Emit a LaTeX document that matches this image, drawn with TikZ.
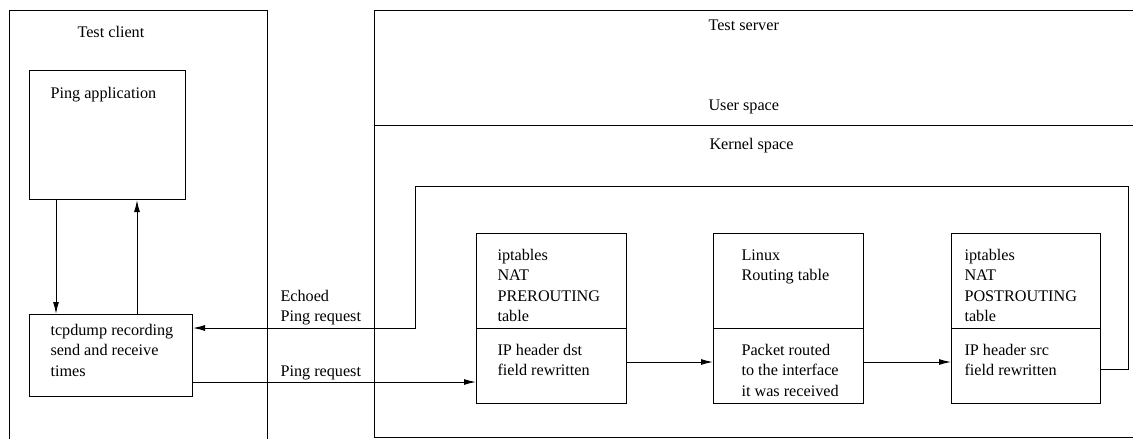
\documentclass[tikz,border=0pt]{standalone}
\usepackage{fontspec}
\setmainfont{Liberation Serif}
\usetikzlibrary{arrows.meta}
\tikzset{
	box/.style={draw, rectangle, inner sep=0pt, anchor=north west},
	txt/.style={anchor=base west, align=left, inner sep=0pt},
	flow/.style={-{Latex[length=12pt,width=6pt]}}
}

\begin{document}
\begin{tikzpicture}[x=1pt,y=-1pt,line width=1pt,font=\fontsize{16.2}{20.5}\selectfont]
	\useasboundingbox (0,0) rectangle (1133,439);
	% define coordinates
	\coordinate (ping) at (0,382);
	\coordinate (echo) at (0,328);
	\coordinate (fwd) at (0,362);
	\coordinate (back) at (0,369);
	\coordinate (up) at (1128,186);
	\coordinate (down) at (415,186);
	% hosts
	\draw (9,440) -- (9,10) -- (267,10) -- (267,440);
	\draw (1134,10) -- (374,10) -- (374,437) -- (1134,437);
	\draw (374,125) -- (1134,125);
	\node[txt] (client) at (77,37) {Test client};
	\node[txt] (server) at (708,30) {Test server};
	\node[txt] (user) at (708,110) {User space};
	\node[txt] (kernel) at (709,149) {Kernel space};
	% client boxes
	\node[box, minimum width=156pt, minimum height=129pt] (app) at (29,70) {};
	\node[box, minimum width=163pt, minimum height=82pt] (tcp) at (29,314) {};
	% text: base of the last line
	\node[txt] (apptext) at (50,98) {Ping application};
	\node[txt] (tcptext) at (50,376) {tcpdump recording\\send and receive\\times};
	% server tables
	\node[box, minimum width=150pt, minimum height=95pt] (pretop) at (476,233) {};
	\node[box, minimum width=150pt, minimum height=75pt] (prebot) at (476,328) {};
	\node[box, minimum width=150pt, minimum height=95pt] (routetop) at (713,233) {};
	\node[box, minimum width=150pt, minimum height=75pt] (routebot) at (713,328) {};
	\node[box, minimum width=149pt, minimum height=95pt] (posttop) at (951,233) {};
	\node[box, minimum width=149pt, minimum height=75pt] (postbot) at (951,328) {};
	\node[txt] (pretext) at (497,321.5) {iptables\\NAT\\PREROUTING\\table};
	\node[txt] (prerule) at (497,375.5) {IP header dst\\field rewritten};
	\node[txt] (routetext) at (741,280.5) {Linux\\Routing table};
	\node[txt] (routerule) at (741,396) {Packet routed\\to the interface\\it was received};
	\node[txt] (posttext) at (964,321.5) {iptables\\NAT\\POSTROUTING\\table};
	\node[txt] (postrule) at (964,375.5) {IP header src\\field rewritten};
	% arrows
	\draw[flow] (app.south -| 56,0) -- (tcp.north -| 56,0);
	\draw[flow] (tcp.north -| 137,0) -- (app.south -| 137,0);
	\draw[flow] (tcp.east |- ping) -- (prebot.west |- ping);
	\draw[flow] (prebot.east |- fwd) -- (routebot.west |- fwd);
	\draw[flow] (routebot.east |- fwd) -- (postbot.west |- fwd);
	\draw[flow] (postbot.east |- back) -| (up) -- (down) |- (tcp.east |- echo);
	\node[txt] (echolabel) at (280,321.5) {Echoed\\Ping request};
	\node[txt] (pinglabel) at (280,376) {Ping request};
\end{tikzpicture}
\end{document}
